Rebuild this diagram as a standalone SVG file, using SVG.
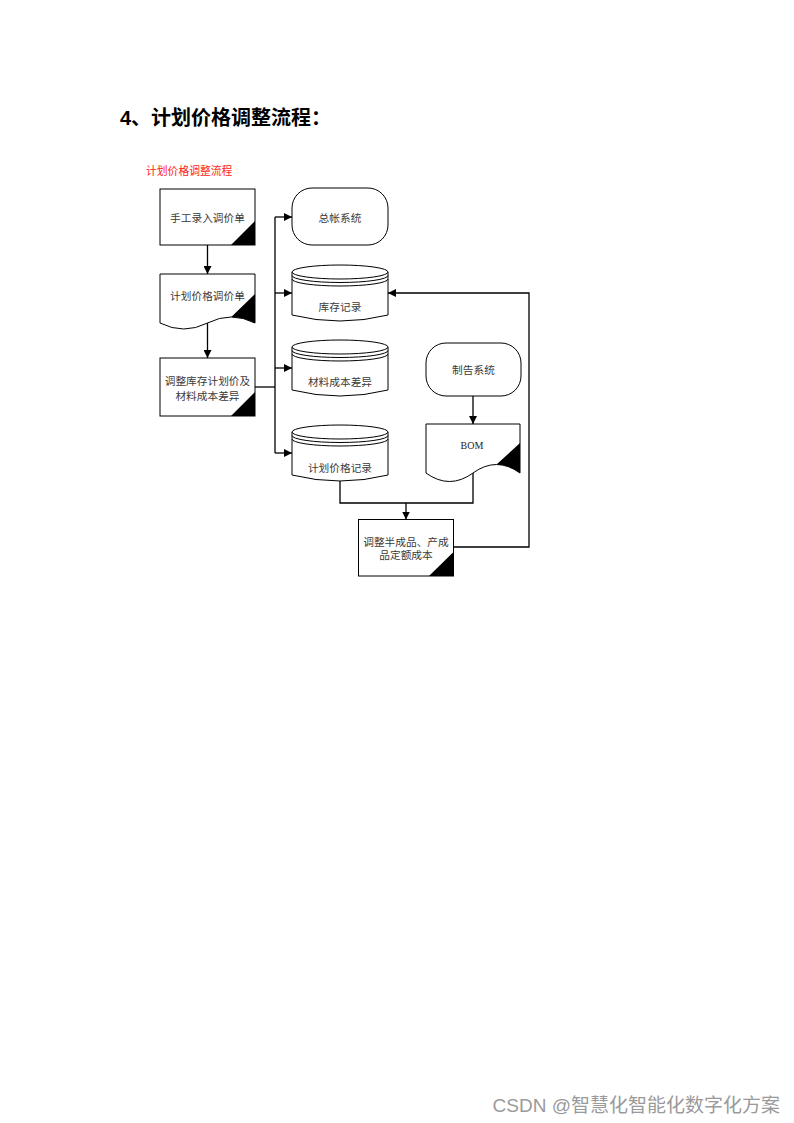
<svg xmlns="http://www.w3.org/2000/svg" width="794" height="1123" viewBox="0 0 794 1123">
<style>
.s{fill:#fff;stroke:#000;stroke-width:1}
.tri{fill:#000;stroke:none}
.ln{fill:none;stroke:#000;stroke-width:1.3}
.arc{fill:none;stroke:#000;stroke-width:1}
.t{font-family:"Noto Sans CJK SC","Liberation Serif",serif;font-size:10.7px;fill:#3a3a3a;text-anchor:middle;dominant-baseline:central}
.b{font-family:"Liberation Serif",serif;font-size:10px;fill:#222;text-anchor:middle;dominant-baseline:central}
</style>
<defs>
<marker id="arr" viewBox="0 0 10 10" refX="10" refY="5" markerWidth="8" markerHeight="8" markerUnits="userSpaceOnUse" orient="auto"><path d="M0,0 L10,5 L0,10 z" fill="#000"/></marker>
</defs>
<rect width="794" height="1123" fill="#fff"/>
<text x="120" y="125" font-family="Liberation Sans,'Noto Sans CJK SC',sans-serif" font-size="20" font-weight="bold" fill="#000">4、计划价格调整流程：</text>
<text x="146" y="175" font-family="'Noto Sans CJK SC',sans-serif" font-size="10.8" fill="#f22">计划价格调整流程</text>

<g id="connectors">
<path class="ln" d="M207.5,245 V274" marker-end="url(#arr)"/>
<path class="ln" d="M207.5,323 V358" marker-end="url(#arr)"/>
<path class="ln" d="M255,387 H275"/>
<path class="ln" d="M275,217 V453"/>
<path class="ln" d="M275,217 H292" marker-end="url(#arr)"/>
<path class="ln" d="M275,293 H292" marker-end="url(#arr)"/>
<path class="ln" d="M275,368 H292" marker-end="url(#arr)"/>
<path class="ln" d="M275,453 H292" marker-end="url(#arr)"/>
<path class="ln" d="M473,396 V424" marker-end="url(#arr)"/>
<path class="ln" d="M340,481 V503 H473 V473"/>
<path class="ln" d="M406,503 V519.5" marker-end="url(#arr)"/>
<path class="ln" d="M453.5,547 H529 V293 H388" marker-end="url(#arr)"/>
</g>

<g id="n1">
<rect class="s" x="160" y="189" width="95" height="56"/>
<polygon class="tri" points="231,245 255,245 255,221"/>
<text class="t" x="207.5" y="217">手工录入调价单</text>
</g>

<g id="n2">
<path class="s" d="M160,274 H255 V323 Q231.25,311 207.5,323 T160,323 Z"/>
<path class="tri" d="M231.25,317 L255,294 V323 Q243.1,317 231.25,317 Z"/>
<text class="t" x="207.5" y="295">计划价格调价单</text>
</g>

<g id="n3">
<rect class="s" x="160" y="358" width="95" height="58"/>
<polygon class="tri" points="231,416 255,416 255,392"/>
<text class="t" x="207.5" y="380">调整库存计划价及</text>
<text class="t" x="207.5" y="395">材料成本差异</text>
</g>

<g id="n4">
<rect class="s" x="292" y="188" width="96" height="57" rx="20" ry="20"/>
<text class="t" x="340" y="217">总帐系统</text>
</g>

<g id="n5">
<path class="s" d="M292,272 V315 Q340,327 388,315 V272"/>
<ellipse class="s" cx="340" cy="272" rx="48" ry="7"/>
<path class="arc" d="M292,275.5 A48,7 0 0 0 388,275.5"/>
<path class="arc" d="M292,279 A48,7 0 0 0 388,279"/>
<text class="t" x="340" y="306.5">库存记录</text>
</g>

<g id="n6">
<path class="s" d="M292,347 V390 Q340,402 388,390 V347"/>
<ellipse class="s" cx="340" cy="347" rx="48" ry="7"/>
<path class="arc" d="M292,350.5 A48,7 0 0 0 388,350.5"/>
<path class="arc" d="M292,354 A48,7 0 0 0 388,354"/>
<text class="t" x="340" y="381.5">材料成本差异</text>
</g>

<g id="n7">
<path class="s" d="M292,432 V475 Q340,487 388,475 V432"/>
<ellipse class="s" cx="340" cy="432" rx="48" ry="7"/>
<path class="arc" d="M292,435.5 A48,7 0 0 0 388,435.5"/>
<path class="arc" d="M292,439 A48,7 0 0 0 388,439"/>
<text class="t" x="340" y="467">计划价格记录</text>
</g>

<g id="n8">
<rect class="s" x="426" y="343" width="95" height="53" rx="20" ry="20"/>
<text class="t" x="473.5" y="369">制告系统</text>
</g>

<g id="n9">
<path class="s" d="M426,424 H520 V473 Q496.5,456 473,473 T426,473 Z"/>
<path class="tri" d="M496.5,464.5 L520,443 V473 Q508.25,464.5 496.5,464.5 Z"/>
<text class="b" x="472" y="445">BOM</text>
</g>

<g id="n10">
<rect class="s" x="358.5" y="519.5" width="95" height="56.5"/>
<polygon class="tri" points="429,576 453.5,576 453.5,552"/>
<text class="t" x="406" y="541">调整半成品、产成</text>
<text class="t" x="406" y="554">品定额成本</text>
</g>

<text x="780" y="1112" text-anchor="end" font-family="'Liberation Sans','Noto Sans CJK SC',sans-serif" font-size="19" fill="#9a9a9a">CSDN @智慧化智能化数字化方案</text>
</svg>
